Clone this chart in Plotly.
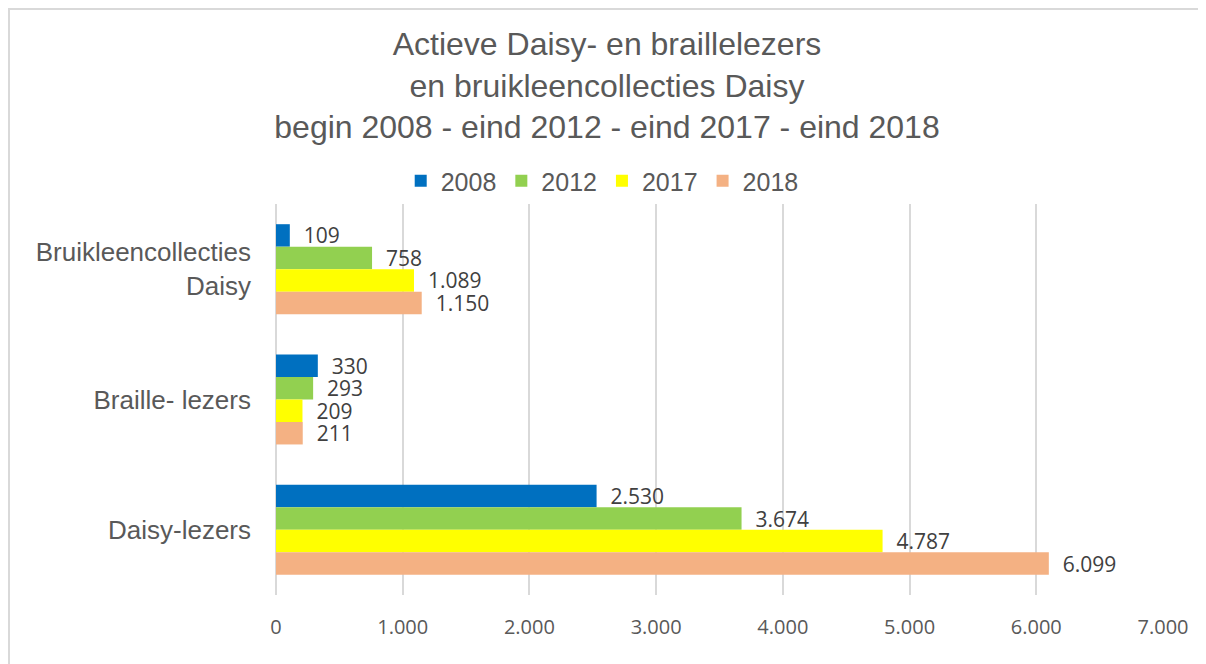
import plotly.graph_objects as go

# Data
categories = ["Bruikleencollecties<br>Daisy", "Braille- lezers", "Daisy-lezers"]
years = ["2008", "2012", "2017", "2018"]
values_2008 = [109, 330, 2530]
values_2012 = [758, 293, 3674]
values_2017 = [1089, 209, 4787]
values_2018 = [1150, 211, 6099]
x_ticks = [0, 1000, 2000, 3000, 4000, 5000, 6000, 7000]
x_tick_labels = ["0", "1.000", "2.000", "3.000", "4.000", "5.000", "6.000", "7.000"]

colors = ["#0070C0", "#92D050", "#FFFF00", "#F4B183"]

# page body has an 8px margin, so the figure is sized to fill the rest of the window
W, H = 1198, 656
M_L, M_R, M_T, M_B = 268, 43, 196, 69


def fmt(v: int) -> str:
    # dutch thousands separator, small lead-in so the label sits off the bar end
    return "\u00a0\u00a0" + f"{v:,}".replace(",", ".")


fig = go.Figure()
for name, vals, col in zip(years, [values_2008, values_2012, values_2017, values_2018], colors):
    fig.add_trace(go.Bar(
        y=categories,
        x=vals,
        name=name,
        orientation="h",
        marker=dict(color=col, line=dict(width=0)),
        text=[fmt(v) for v in vals],
        textposition="outside",
        constraintext="none",
        textfont=dict(family="Open Sans, sans-serif", size=21, color="#404040"),
        cliponaxis=False,
    ))

# light grey frame round the chart (cut off at right and bottom like the reference)
pw, ph = W - M_L - M_R, H - M_T - M_B
fig.add_shape(
    type="rect", xref="paper", yref="paper",
    x0=(1 - M_L) / pw, x1=(W + 10 - M_L) / pw,
    y0=(H - M_B - (H + 10)) / ph, y1=(H - M_B - 1) / ph,
    line=dict(color="#d9d9d9", width=2), fillcolor="rgba(0,0,0,0)", layer="below",
)

fig.update_layout(
    width=W, height=H,
    paper_bgcolor="white", plot_bgcolor="white",
    margin=dict(l=M_L, r=M_R, t=M_T, b=M_B, autoexpand=False),
    barmode="group",
    bargap=0.31,
    bargroupgap=0,
    title=dict(
        text="Actieve Daisy- en braillelezers<br>en bruikleencollecties Daisy<br>begin 2008 - eind 2012 - eind 2017 - eind 2018",
        x=0.5, xref="container", xanchor="center",
        y=1 - 47 / H, yref="container", yanchor="top",
        font=dict(family="Liberation Sans, Arial", size=32, color="#595959"),
    ),
    legend=dict(
        orientation="h",
        x=0.496, xref="container", xanchor="center",
        y=1 - 173 / H, yref="container", yanchor="middle",
        font=dict(family="Liberation Sans, Arial", size=25, color="#595959"),
        itemwidth=30,
        traceorder="normal",
    ),
    xaxis=dict(
        range=[0, 7000],
        tickvals=x_ticks,
        ticktext=x_tick_labels,
        automargin=False,
        showgrid=True, gridcolor="#d9d9d9", gridwidth=2,
        zeroline=True, zerolinecolor="#d9d9d9", zerolinewidth=2,
        showline=False,
        ticks="",
        ticklabelstandoff=18,
        tickfont=dict(family="Open Sans, sans-serif", size=20, color="#595959"),
    ),
    yaxis=dict(
        autorange="reversed",
        automargin=False,
        showgrid=False,
        showline=False,
        ticks="",
        ticklabelstandoff=24,
        tickfont=dict(family="Liberation Sans, Arial", size=26, color="#595959"),
    ),
)

fig.write_html("out.html")
